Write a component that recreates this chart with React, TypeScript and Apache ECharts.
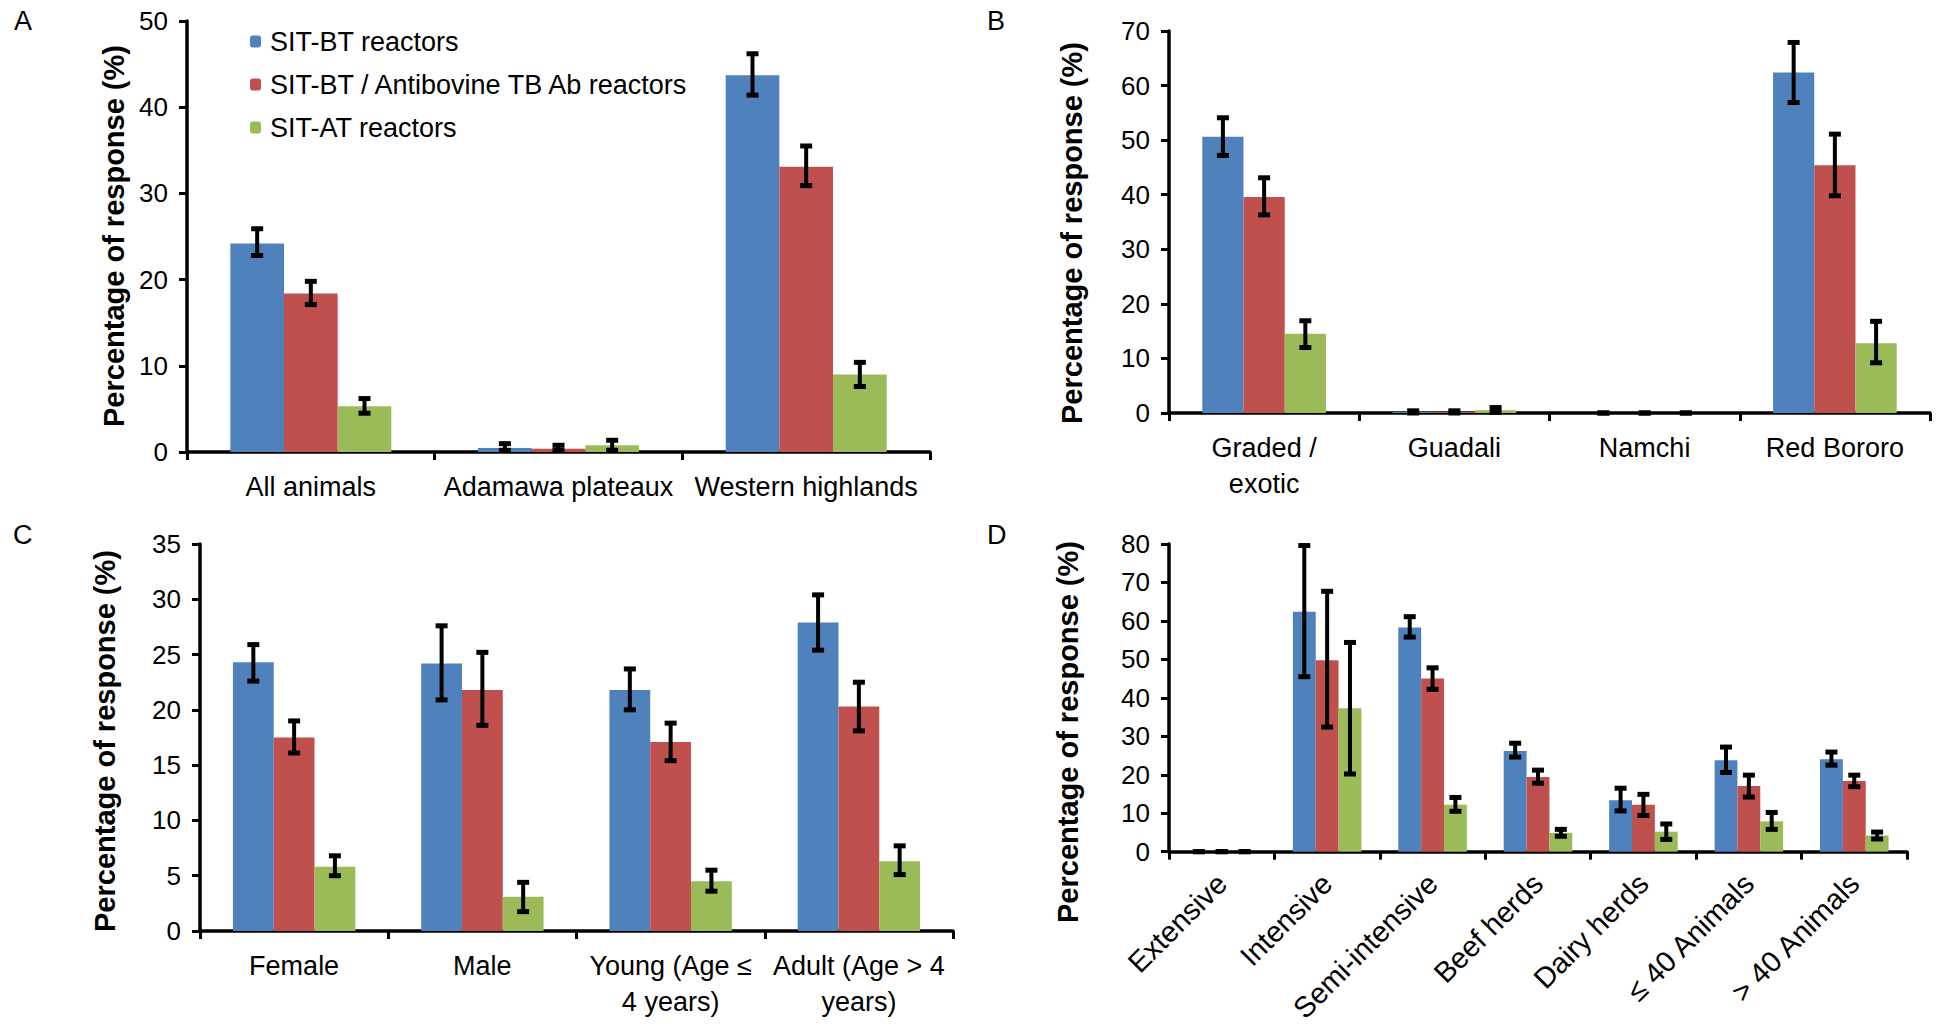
import React, { useEffect, useRef } from "react";
import * as echarts from "echarts";

// ---------- Data ----------
const seriesNames = ["SIT-BT reactors", "SIT-BT / Antibovine TB Ab reactors", "SIT-AT reactors"];
const colors = ["#4F81BD", "#C0504D", "#9BBB59"];

// Panel A
const catsA = ["All animals", "Adamawa plateaux", "Western highlands"];
const blueA = [24.2, 0.47, 43.7];
const blueALo = [22.8, 0.2, 41.4];
const blueAHi = [25.9, 0.97, 46.2];
const redA = [18.4, 0.39, 33.1];
const redALo = [17.1, 0.2, 30.9];
const redAHi = [19.8, 0.78, 35.5];
const greenA = [5.3, 0.78, 9.0];
const greenALo = [4.5, 0.2, 7.6];
const greenAHi = [6.2, 1.36, 10.4];

// Panel B
const catsB = ["Graded /\nexotic", "Guadali", "Namchi", "Red Bororo"];
const blueB = [50.6, 0.2, 0, 62.4];
const blueBLo = [47.2, 0, 0, 56.9];
const blueBHi = [54.1, 0.4, 0, 67.9];
const redB = [39.6, 0.2, 0, 45.4];
const redBLo = [36.3, 0, 0, 39.8];
const redBHi = [43.1, 0.4, 0, 51.1];
const greenB = [14.5, 0.5, 0, 12.8];
const greenBLo = [12.0, 0.1, 0, 9.2];
const greenBHi = [16.9, 1.0, 0, 16.8];

// Panel C
const catsC = ["Female", "Male", "Young (Age ≤\n4 years)", "Adult (Age > 4\nyears)"];
const blueC = [24.3, 24.2, 21.8, 27.9];
const blueCLo = [22.6, 20.9, 20.0, 25.4];
const blueCHi = [25.9, 27.6, 23.7, 30.4];
const redC = [17.5, 21.8, 17.1, 20.3];
const redCLo = [16.1, 18.6, 15.4, 18.1];
const redCHi = [19.0, 25.2, 18.8, 22.5];
const greenC = [5.8, 3.1, 4.5, 6.3];
const greenCLo = [5.0, 1.75, 3.6, 5.1];
const greenCHi = [6.8, 4.4, 5.5, 7.7];

// Panel D
const catsD = ["Extensive", "Intensive", "Semi-intensive", "Beef herds", "Dairy herds", "≤ 40 Animals", "> 40 Animals"];
const blueD = [0, 62.4, 58.3, 26.2, 13.4, 23.8, 24.0];
const blueDLo = [0, 45.5, 55.8, 24.6, 10.6, 20.6, 22.5];
const blueDHi = [0, 79.6, 61.1, 28.2, 16.5, 27.2, 25.9];
const redD = [0, 49.8, 45.0, 19.4, 12.2, 17.1, 18.4];
const redDLo = [0, 32.4, 42.2, 17.8, 9.4, 14.2, 16.9];
const redDHi = [0, 67.7, 47.8, 21.2, 14.9, 19.9, 19.9];
const greenD = [0, 37.3, 12.2, 4.9, 5.2, 7.9, 4.2];
const greenDLo = [0, 20.2, 10.5, 4.0, 3.2, 5.8, 3.3];
const greenDHi = [0, 54.4, 14.1, 5.8, 7.2, 10.2, 5.1];

const yMaxA = 50, yStepA = 10;
const yMaxB = 70, yStepB = 10;
const yMaxC = 35, yStepC = 5;
const yMaxD = 80, yStepD = 10;

const yTitle = "Percentage of response (%)";

const FONT = "'Liberation Sans', Arial, Helvetica, sans-serif";
const GAP = 0.35;

type Panel = {
  cats: string[];
  vals: number[][];
  lo: number[][];
  hi: number[][];
  max: number;
  step: number;
  grid: { left: number; top: number; width: number; height: number };
  rotate?: number;
};

const panels: Panel[] = [
  {
    cats: catsA,
    vals: [blueA, redA, greenA],
    lo: [blueALo, redALo, greenALo],
    hi: [blueAHi, redAHi, greenAHi],
    max: yMaxA,
    step: yStepA,
    grid: { left: 187, top: 21, width: 743, height: 431 },
  },
  {
    cats: catsB,
    vals: [blueB, redB, greenB],
    lo: [blueBLo, redBLo, greenBLo],
    hi: [blueBHi, redBHi, greenBHi],
    max: yMaxB,
    step: yStepB,
    grid: { left: 1169, top: 31, width: 761, height: 382 },
  },
  {
    cats: catsC,
    vals: [blueC, redC, greenC],
    lo: [blueCLo, redCLo, greenCLo],
    hi: [blueCHi, redCHi, greenCHi],
    max: yMaxC,
    step: yStepC,
    grid: { left: 200, top: 544, width: 753, height: 387 },
  },
  {
    cats: catsD,
    vals: [blueD, redD, greenD],
    lo: [blueDLo, redDLo, greenDLo],
    hi: [blueDHi, redDHi, greenDHi],
    max: yMaxD,
    step: yStepD,
    grid: { left: 1169, top: 544, width: 738, height: 311 },
    rotate: 45,
  },
];

function renderErr(params: any, api: any) {
  const cat = api.value(0);
  const s = api.value(1);
  const lo = api.value(2);
  const hi = api.value(3);
  const p0 = api.coord([cat, lo]);
  const p1 = api.coord([cat, hi]);
  const cw = api.size([1, 0])[0];
  const bw = (cw * (1 - GAP)) / 3;
  const x = p0[0] + (s - 1) * bw;
  const capW = 12;
  const capH = 5;
  return {
    type: "group",
    children: [
      {
        type: "line",
        shape: { x1: x, y1: p0[1], x2: x, y2: p1[1] },
        style: { stroke: "#000", lineWidth: 4 },
      },
      {
        type: "rect",
        shape: { x: x - capW / 2, y: p1[1] - capH / 2, width: capW, height: capH },
        style: { fill: "#000" },
      },
      {
        type: "rect",
        shape: { x: x - capW / 2, y: p0[1] - capH / 2, width: capW, height: capH },
        style: { fill: "#000" },
      },
    ],
  };
}

export default function App() {
  const ref = useRef<HTMLDivElement>(null);

  useEffect(() => {
    if (!ref.current) return;
    const chart = echarts.init(ref.current, undefined, { renderer: "svg" });

    const grid: any[] = [];
    const xAxis: any[] = [];
    const yAxis: any[] = [];
    const series: any[] = [];

    panels.forEach((p, i) => {
      grid.push({ ...p.grid, containLabel: false });
      xAxis.push({
        type: "category",
        gridIndex: i,
        data: p.cats,
        axisLine: { show: true, lineStyle: { color: "#000", width: 3.5 } },
        axisTick: { show: true, length: 8, lineStyle: { color: "#000", width: 3 } },
        axisLabel: {
          interval: 0,
          color: "#000",
          fontSize: p.rotate ? 29 : 27,
          fontFamily: FONT,
          margin: p.rotate ? 27 : 17,
          lineHeight: 36,
          rotate: p.rotate || 0,
        },
        splitLine: { show: false },
      });
      yAxis.push({
        type: "value",
        gridIndex: i,
        min: 0,
        max: p.max,
        interval: p.step,
        axisLine: { show: true, lineStyle: { color: "#000", width: 3.5 } },
        axisTick: { show: true, length: 8, lineStyle: { color: "#000", width: 3 } },
        axisLabel: { color: "#000", fontSize: 26, fontFamily: FONT, margin: 19 },
        splitLine: { show: false },
      });
      p.vals.forEach((vals, s) => {
        series.push({
          type: "bar",
          name: seriesNames[s],
          xAxisIndex: i,
          yAxisIndex: i,
          data: vals,
          barGap: "0%",
          barCategoryGap: GAP * 100 + "%",
          itemStyle: { color: colors[s] },
          z: 2,
        });
      });
      const errData: number[][] = [];
      p.cats.forEach((_, c) => {
        for (let s = 0; s < 3; s++) {
          errData.push([c, s, p.lo[s][c], p.hi[s][c]]);
        }
      });
      series.push({
        type: "custom",
        name: "err" + i,
        xAxisIndex: i,
        yAxisIndex: i,
        data: errData,
        encode: { x: 0, y: [2, 3] },
        renderItem: renderErr,
        z: 5,
        silent: true,
      });
    });

    const letter = (t: string, x: number, y: number) => ({
      type: "text",
      x,
      y,
      style: { text: t, fontSize: 27, fontFamily: FONT, fill: "#000", align: "left", verticalAlign: "top" },
    });
    const title = (x: number, y: number) => ({
      type: "text",
      x,
      y,
      rotation: Math.PI / 2,
      style: {
        text: yTitle,
        fontSize: 29,
        fontWeight: "bold",
        fontFamily: FONT,
        fill: "#000",
        align: "center",
        verticalAlign: "middle",
      },
    });

    chart.setOption({
      animation: false,
      backgroundColor: "#fff",
      textStyle: { fontFamily: FONT },
      grid,
      xAxis,
      yAxis,
      series,
      legend: {
        show: true,
        data: seriesNames,
        orient: "vertical",
        left: 250,
        top: 28,
        padding: 0,
        itemWidth: 11,
        itemHeight: 12,
        itemGap: 16,
        textStyle: { fontSize: 27, fontFamily: FONT, color: "#000", lineHeight: 27, padding: [0, 0, 0, 4] },
        selectedMode: false,
      },
      graphic: [
        letter("A", 14, 7),
        letter("B", 987, 7),
        letter("C", 13, 521),
        letter("D", 987, 521),
        title(114, 236),
        title(1072, 233),
        title(105, 741),
        title(1068, 732),
      ],
    });

    return () => chart.dispose();
  }, []);

  return (
    <div
      ref={ref}
      style={{ position: "absolute", left: 0, top: 0, width: 1943, height: 1028, background: "#fff" }}
    />
  );
}
